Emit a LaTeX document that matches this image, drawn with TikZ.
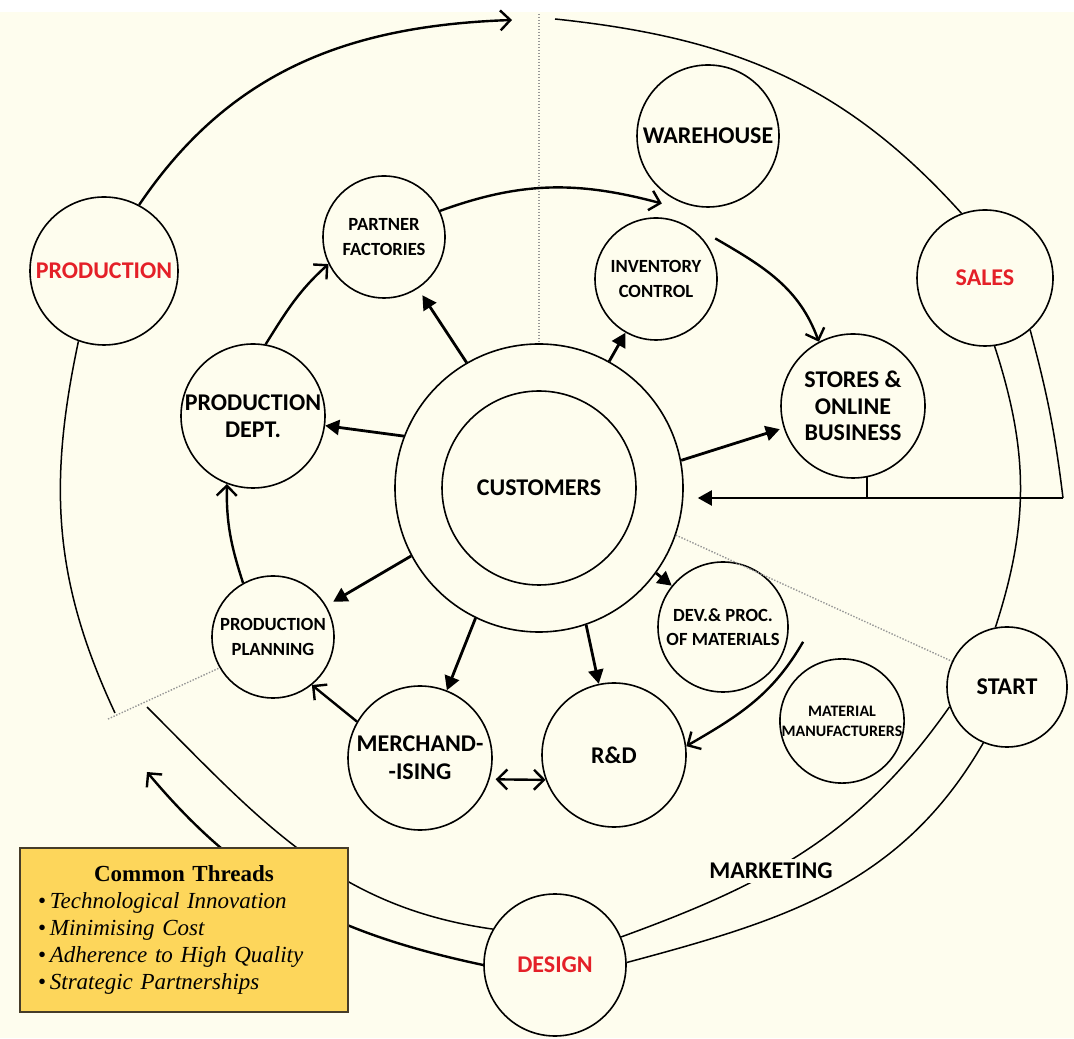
\documentclass[tikz,border=0pt]{standalone}
\usepackage{fontspec}
\setmainfont{Carlito}
\newfontfamily\threadfont{Liberation Serif}
\usetikzlibrary{arrows.meta}

\definecolor{paper}{RGB}{254,253,238}
\definecolor{phase}{RGB}{228,32,40}
\definecolor{threadfill}{RGB}{253,214,91}
\definecolor{threadline}{RGB}{70,60,40}
\definecolor{splitgray}{RGB}{150,150,150}

\tikzstyle{station}=[circle, draw, line width=0.8pt, inner sep=0pt, align=center, font=\bfseries\fontsize{12}{13.4}\selectfont]
\tikzstyle{minor}=[font=\bfseries\fontsize{9.3}{12.2}\selectfont]
\tikzstyle{phaseText}=[text=phase]
\tikzstyle{pushed}=[line width=1.4pt, -{Triangle[length=7pt,width=7.5pt]}]
\tikzstyle{flowed}=[line width=1.2pt, -{Straight Barb[length=5pt,width=10pt]}]
\tikzstyle{rimmed}=[line width=0.75pt]
\tikzstyle{dotline}=[draw=splitgray, line width=0.7pt, dash pattern=on 0.7pt off 0.8pt]
\tikzstyle{threads}=[draw=threadline, fill=threadfill, line width=0.8pt, minimum width=164pt, minimum height=82pt, text width=146pt, inner xsep=9pt, inner ysep=6pt, align=left, font=\threadfont\fontsize{11.5}{13.5}\selectfont]
\newcommand{\hub}[5]{
	\node[station, minimum size=#3pt, #4] (#1) at (#2) {#5};
}

\begin{document}
\begin{tikzpicture}[x=0.5pt, y=0.5pt]
\useasboundingbox (0,0) rectangle (1074,1038);
\fill[paper] (0,0) rectangle (1074,1026);

% circles
\hub{prod}{104,767}{74}{phaseText}{PRODUCTION}
\hub{partner}{384,801}{61}{minor}{PARTNER\\FACTORIES}
\hub{warehouse}{708,902}{71}{}{WAREHOUSE}
\hub{inventory}{656,759}{61}{minor}{INVENTORY\\CONTROL}
\hub{sales}{985,760}{68}{phaseText}{SALES}
\hub{proddept}{253,622}{72}{}{PRODUCTION\\DEPT.}
\hub{cust}{539,550}{144}{}{}
\hub{custIn}{539,550}{97}{}{CUSTOMERS}
\hub{stores}{853,632}{72}{}{STORES \&\\ONLINE\\BUSINESS}
\hub{planning}{273,401}{61}{minor}{PRODUCTION\\PLANNING}
\hub{devproc}{723,411}{65}{minor}{DEV.\& PROC.\\OF MATERIALS}
\hub{start}{1007,351}{60}{}{START}
\hub{matman}{842,317}{61}{font=\bfseries\fontsize{8}{10}\selectfont}{MATERIAL\\MANUFACTURERS}
\hub{merch}{420,280}{72}{font=\bfseries\fontsize{12}{14}\selectfont}{MERCHAND-\\-ISING}
\hub{rnd}{614,283}{72}{}{R\&D}
\hub{design}{555,73}{71}{phaseText}{DESIGN}

% outer cycle
\coordinate (topL) at (512,1018);
\coordinate (topR) at (555,1019);
\coordinate (topMid) at (539,1024);
\coordinate (rt) at (1063,540);
\coordinate (ll) at (115,325);
\coordinate (dd) at (108,319);
\coordinate (dl1) at (147,331);
\coordinate (dl2) at (147,266);

\draw[flowed] (prod.62) to[out=56,in=182] (topL);
\draw[rimmed] (topR) to[out=-6,in=132] (sales.110);
\draw[rimmed] (sales.-82) to[out=-72,in=72] (start.101);
\draw[rimmed] (sales.-49) to[out=-75,in=97] (rt);
\draw[pushed, line width=1.1pt, shorten >=7pt] (rt) -- (rt -| cust.east);
\draw[rimmed] (stores.-79) -- (stores.-79 |- rt);
\draw[rimmed] (start.199) to[out=235,in=20] (design.23);
\draw[rimmed] (start.247) to[out=240,in=15] (design.2);
\draw[rimmed] (design.150) to[out=172,in=-45] (dl1);
\draw[flowed] (design.180) to[out=168,in=-50] (dl2);
\draw[rimmed] (prod.250) to[out=258,in=115] (ll);

\draw[dotline] (topMid) -- (cust.north);
\draw[dotline] (cust.-19) -- (start.155);
\draw[dotline] (dd) -- (planning.210);

% from the customers
\draw[pushed, shorten >=4pt] (cust.120) -- (partner);
\draw[pushed] (cust.61) -- (inventory);
\draw[pushed] (cust.159) -- (proddept);
\draw[pushed, shorten >=2pt] (cust.11) -- (stores);
\draw[pushed, shorten >=4pt] (cust.208) -- (planning);
\draw[pushed] (cust.244) -- (merch);
\draw[pushed] (cust.289) -- (rnd);
\draw[pushed] (cust.324) -- (devproc);

% inner flow
\draw[flowed] (partner.25) to[out=20,in=165] ([xshift=-3pt,yshift=-4pt]warehouse.236);
\draw[flowed] ([xshift=4pt,yshift=3pt]inventory.34) to[out=-30,in=110] (stores.118);
\draw[flowed] (planning.119) to[out=108,in=269] (proddept.249);
\draw[flowed] (proddept.80) to[out=58,in=222] (partner.206);
\draw[flowed] (merch.150) -- (planning.309);
\draw[flowed, {Straight Barb[length=5pt,width=10pt]}-{Straight Barb[length=5pt,width=10pt]}, shorten <=3pt] (merch.-17) -- (rnd.200);
\draw[flowed] ([xshift=8pt]devproc.-13) to[out=240,in=30] (rnd.7);

\node[fill=paper, inner sep=2pt, font=\bfseries\fontsize{12}{13}\selectfont] (mkt) at (771,167) {MARKETING};

\node[threads] (box) at (184,108) {{\centering\textbf{Common Threads}\par}
	\textbullet\,\textit{Technological Innovation}\\
	\textbullet\,\textit{Minimising Cost}\\
	\textbullet\,\textit{Adherence to High Quality}\\
	\textbullet\,\textit{Strategic Partnerships}};
\end{tikzpicture}
\end{document}
